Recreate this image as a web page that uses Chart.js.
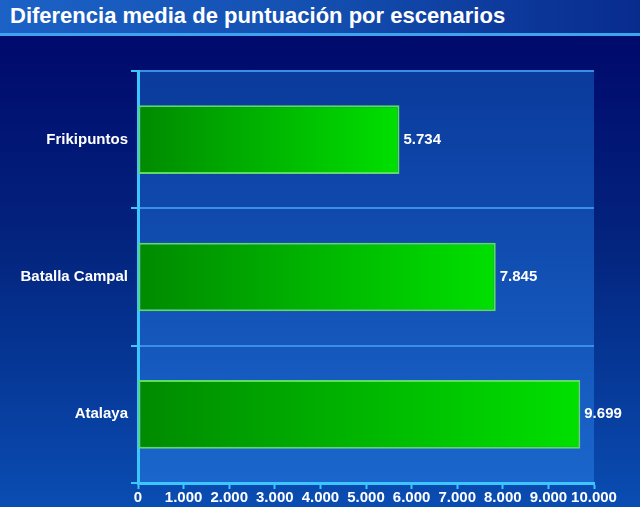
<!DOCTYPE html>
<html>
    <head>
        <title>Diferencia media de puntuación</title>
        <meta charset="utf-8" />
        <script src="https://cdn.jsdelivr.net/npm/chart.js@4.4.0/dist/chart.umd.min.js"></script>
        <style>
            * {
                margin: 0;
                padding: 0;
                box-sizing: border-box;
            }
            body {
                width: 640px;
                height: 507px;
                overflow: hidden;
                background: linear-gradient(to bottom, #000a6a 0px, #000c6e 60px, #03257f 250px, #0a4db2 507px);
                font-family: "Liberation Sans", Arial, sans-serif;
            }
            #title-bar {
                position: absolute;
                left: 0;
                top: 0;
                width: 640px;
                height: 36px;
                background: linear-gradient(to right, #1c62c6, #134fb0 50%, #082b8e);
                border-bottom: 3px solid #3fa4f0;
                color: #ffffff;
                font-weight: bold;
                font-size: 22px;
                line-height: 32px;
                padding-left: 10px;
            }
            #wrap {
                position: absolute;
                left: 0;
                top: 0;
                width: 640px;
                height: 507px;
            }
        </style>
    </head>
    <body>

        <div id="wrap">
            <canvas id="myChart" width="640" height="507"></canvas>
        </div>
        <div id="title-bar">Diferencia media de puntuación por escenarios</div>

        <script>
            const categories = ['Frikipuntos', 'Batalla Campal', 'Atalaya'];
            const values = [5734, 7845, 9699];
            const axisMin = 0;
            const axisMax = 10000;
            const axisStep = 1000;

            const axisColor = '#3cc6ff';
            const font = { family: '"Liberation Sans", Arial, sans-serif', weight: 'bold', size: 15 };

            // 1000 -> "1.000"
            const fmt = v => String(Math.round(v)).replace(/\B(?=(\d{3})+(?!\d))/g, '.');

            const plotBackground = {
                id: 'plotBackground',
                beforeDraw(chart) {
                    const { ctx, chartArea: a } = chart;
                    const g = ctx.createLinearGradient(0, a.top, 0, a.bottom);
                    g.addColorStop(0, '#0a3a9c');
                    g.addColorStop(1, '#1a66cc');
                    ctx.save();
                    ctx.fillStyle = g;
                    ctx.fillRect(a.left, a.top, a.right - a.left, a.bottom - a.top);
                    ctx.restore();
                }
            };

            const valueLabels = {
                id: 'valueLabels',
                afterDatasetsDraw(chart) {
                    const ctx = chart.ctx;
                    ctx.save();
                    ctx.fillStyle = '#ffffff';
                    ctx.font = 'bold 15px "Liberation Sans", Arial, sans-serif';
                    ctx.textAlign = 'left';
                    ctx.textBaseline = 'middle';
                    chart.getDatasetMeta(0).data.forEach((bar, i) => {
                        ctx.fillText(fmt(values[i]), bar.x + 4, bar.y);
                    });
                    ctx.restore();
                }
            };

            const data = {
                labels: categories,
                datasets: [{
                    data: values,
                    backgroundColor: (c) => {
                        const chart = c.chart;
                        if (!chart.chartArea || !chart.scales.x) return '#00b400';
                        const x0 = chart.scales.x.getPixelForValue(0);
                        const x1 = chart.scales.x.getPixelForValue(values[c.dataIndex]);
                        const g = chart.ctx.createLinearGradient(x0, 0, x1, 0);
                        g.addColorStop(0, '#008a00');
                        g.addColorStop(1, '#00e000');
                        return g;
                    },
                    borderColor: '#5fdc5f',
                    borderWidth: 2,
                    borderSkipped: false,
                    barPercentage: 0.5,
                    categoryPercentage: 1.0
                }]
            };

            const chartConfig = {
                type: 'bar',
                data,
                plugins: [plotBackground, valueLabels],
                options: {
                    indexAxis: 'y',
                    responsive: false,
                    animation: false,
                    layout: {
                        padding: { top: 71, right: 46, bottom: 0, left: 0 }
                    },
                    plugins: {
                        legend: { display: false },
                        title: { display: false },
                        tooltip: { enabled: false }
                    },
                    scales: {
                        x: {
                            min: axisMin,
                            max: axisMax,
                            ticks: {
                                stepSize: axisStep,
                                color: '#ffffff',
                                font,
                                padding: 0,
                                maxRotation: 0,
                                autoSkip: false,
                                callback: v => fmt(v)
                            },
                            grid: {
                                drawOnChartArea: false,
                                tickLength: 6,
                                tickColor: axisColor,
                                tickWidth: 2
                            },
                            border: { color: axisColor, width: 3 },
                            afterFit: s => { s.height = 24; }
                        },
                        y: {
                            ticks: {
                                color: '#ffffff',
                                font,
                                padding: 3
                            },
                            grid: {
                                offset: true,
                                color: '#3a8ee8',
                                lineWidth: 2,
                                tickLength: 7,
                                tickColor: axisColor,
                                tickWidth: 2
                            },
                            border: { color: axisColor, width: 3 },
                            afterFit: s => { s.width = 138; }
                        }
                    }
                }
            };

            new Chart(document.getElementById('myChart'), chartConfig);
        </script>
    </body>
</html>
